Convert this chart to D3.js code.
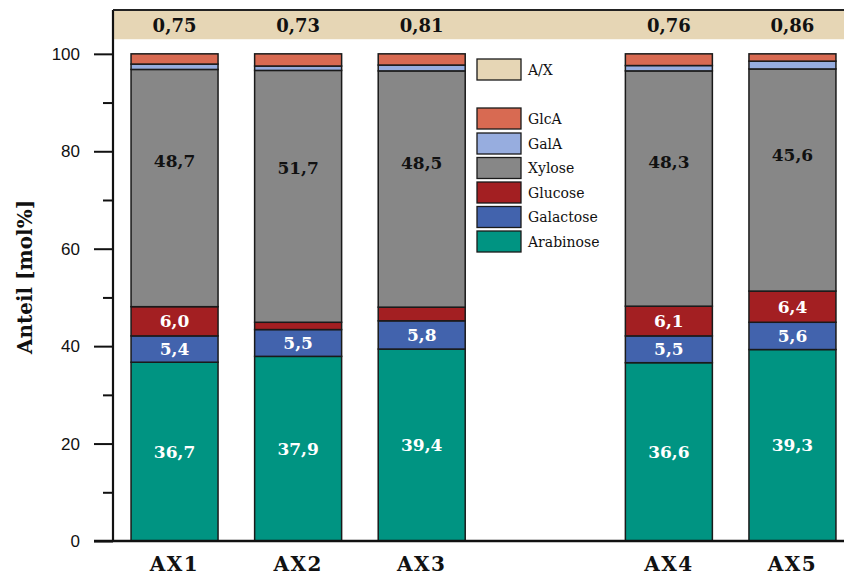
<!DOCTYPE html>
<html>
<head>
<meta charset="utf-8">
<title>Zuckerzusammensetzung AX</title>
<style>
  body { margin: 0; background: #fff; }
  svg { display: block; font-family: "DejaVu Serif", serif; }
  .axis path { display: none; }
  .axis line { stroke: #111; stroke-width: 2; }
  .axis text { font-size: 17px; fill: #111; }
</style>
</head>
<body>
<div id="chart"></div>
<script src="https://d3js.org/d3.v7.min.js"></script>
<script>
// chart values
var categories = ["AX1", "AX2", "AX3", "AX4", "AX5"];
var slots = ["AX1", "AX2", "AX3", "legend", "AX4", "AX5"];
var arabinose = [36.7, 37.9, 39.4, 36.6, 39.3];
var galactose = [5.4, 5.5, 5.8, 5.5, 5.6];
var glucose = [6.0, 1.5, 2.8, 6.1, 6.4];
var xylose = [48.7, 51.7, 48.5, 48.3, 45.6];
var galA = [1.1, 0.9, 1.2, 1.1, 1.6];
var glcA = [2.1, 2.5, 2.3, 2.4, 1.5];
var axRatio = [0.75, 0.73, 0.81, 0.76, 0.86];
var seriesNames = ["Arabinose", "Galactose", "Glucose", "Xylose", "GalA", "GlcA"];
var yTicks = [0, 20, 40, 60, 80, 100];
var yMinorTicks = [10, 30, 50, 70, 90];

var colors = {
  Arabinose: "#009482",
  Galactose: "#4263ad",
  Glucose: "#a31f22",
  Xylose: "#878787",
  GalA: "#97addf",
  GlcA: "#d86a52"
};
var ratioColor = "#e6d6b5";

var series = [arabinose, galactose, glucose, xylose, galA, glcA];

var width = 844, height = 577;
var plotLeft = 113, plotTop = 10, plotBottom = 541;

var svg = d3.select("#chart").append("svg")
  .attr("width", width)
  .attr("height", height);

var y = d3.scaleLinear().domain([0, 109]).range([plotBottom, plotTop]);
var x = d3.scaleBand().domain(slots)
  .range([plotLeft, 854])
  .paddingInner(0.296)
  .paddingOuter(0.146);

var fmt = function(v) { return v.toFixed(1).replace(".", ","); };

// build stacked rows
var rows = categories.map(function(c, i) {
  var r = { cat: c };
  seriesNames.forEach(function(s, k) { r[s] = series[k][i]; });
  return r;
});
var stacked = d3.stack().keys(seriesNames)(rows);

// A/X band on top
svg.append("rect")
  .attr("x", plotLeft).attr("y", plotTop)
  .attr("width", width - plotLeft).attr("height", y(103) - plotTop)
  .attr("fill", ratioColor);

svg.selectAll("text.ratio")
  .data(categories)
  .enter().append("text")
  .attr("class", "ratio")
  .attr("x", function(d) { return x(d) + x.bandwidth() / 2; })
  .attr("y", (plotTop + y(103)) / 2 + 1)
  .attr("dy", "0.36em")
  .attr("text-anchor", "middle")
  .style("font-size", "18px")
  .style("font-weight", "bold")
  .attr("fill", "#111")
  .text(function(d, i) { return axRatio[i].toFixed(2).replace(".", ","); });

// bars
var layers = svg.selectAll("g.layer")
  .data(stacked)
  .enter().append("g")
  .attr("class", "layer")
  .attr("fill", function(d) { return colors[d.key]; });

layers.selectAll("rect")
  .data(function(d) { return d; })
  .enter().append("rect")
  .attr("x", function(d) { return x(d.data.cat); })
  .attr("y", function(d) { return y(d[1]); })
  .attr("width", x.bandwidth())
  .attr("height", function(d) { return y(d[0]) - y(d[1]); })
  .attr("stroke", "#1a1a1a")
  .attr("stroke-width", 1.5);

// value labels
var labelInfo = [
  { key: "Arabinose", color: "#fff", pos: 0.5, min: 0 },
  { key: "Galactose", color: "#fff", pos: 0.5, min: 0 },
  { key: "Glucose", color: "#fff", pos: 0.5, min: 4 },
  { key: "Xylose", color: "#111", pos: 0.6, min: 0 }
];
labelInfo.forEach(function(info) {
  var layer = stacked.find(function(l) { return l.key === info.key; });
  svg.selectAll("text.lbl-" + info.key)
    .data(layer.filter(function(d) { return d[1] - d[0] >= info.min; }))
    .enter().append("text")
    .attr("x", function(d) { return x(d.data.cat) + x.bandwidth() / 2; })
    .attr("y", function(d) { return y(d[0] + (d[1] - d[0]) * info.pos) - (info.pos > 0.5 ? 3 : 0); })
    .attr("dy", "0.36em")
    .attr("text-anchor", "middle")
    .style("font-size", "17px")
    .style("font-weight", "bold")
    .attr("fill", info.color)
    .text(function(d) { return fmt(d[1] - d[0]); });
});

// y axis
svg.append("g").attr("class", "axis")
  .attr("transform", "translate(" + plotLeft + ",0)")
  .call(d3.axisLeft(y).tickValues(yTicks).tickSize(19).tickPadding(14));
svg.append("g").attr("class", "axis")
  .attr("transform", "translate(" + plotLeft + ",0)")
  .call(d3.axisLeft(y).tickValues(yMinorTicks).tickSize(10).tickFormat(""));

// frame lines
svg.append("line")
  .attr("x1", plotLeft).attr("x2", plotLeft)
  .attr("y1", plotTop).attr("y2", plotBottom)
  .attr("stroke", "#111").attr("stroke-width", 2.2);
svg.append("line")
  .attr("x1", plotLeft).attr("x2", width)
  .attr("y1", plotTop).attr("y2", plotTop)
  .attr("stroke", "#222").attr("stroke-width", 2.2);
svg.append("line")
  .attr("x1", plotLeft - 19).attr("x2", width)
  .attr("y1", plotBottom).attr("y2", plotBottom)
  .attr("stroke", "#111").attr("stroke-width", 2.5);

// x labels
svg.selectAll("text.xlab")
  .data(categories)
  .enter().append("text")
  .attr("class", "xlab")
  .attr("x", function(d) { return x(d) + x.bandwidth() / 2; })
  .attr("y", 571)
  .attr("text-anchor", "middle")
  .style("font-size", "20px")
  .style("font-weight", "bold")
  .style("letter-spacing", "1.5px")
  .attr("fill", "#111")
  .text(function(d) { return d; });

// y title
svg.append("text")
  .attr("transform", "translate(32," + 277 + ") rotate(-90)")
  .attr("text-anchor", "middle")
  .style("font-size", "20px")
  .style("font-weight", "bold")
  .attr("fill", "#111")
  .text("Anteil [mol%]");

// legend in the empty slot
var legendItems = [{ name: "A/X", color: ratioColor }].concat(
  seriesNames.slice().reverse().map(function(s) { return { name: s, color: colors[s] }; })
);
var lx = 477;
var legendY = [59, 108, 133, 157.5, 182, 206.5, 231];
var lg = svg.append("g");
lg.selectAll("rect")
  .data(legendItems)
  .enter().append("rect")
  .attr("x", lx)
  .attr("y", function(d, i) { return legendY[i]; })
  .attr("width", 44).attr("height", 21)
  .attr("fill", function(d) { return d.color; })
  .attr("stroke", "#1a1a1a").attr("stroke-width", 1.3);
lg.selectAll("text")
  .data(legendItems)
  .enter().append("text")
  .attr("x", lx + 51)
  .attr("y", function(d, i) { return legendY[i] + 10.5; })
  .attr("dy", "0.36em")
  .style("font-size", "14px")
  .attr("fill", "#111")
  .text(function(d) { return d.name; });
</script>
</body>
</html>
